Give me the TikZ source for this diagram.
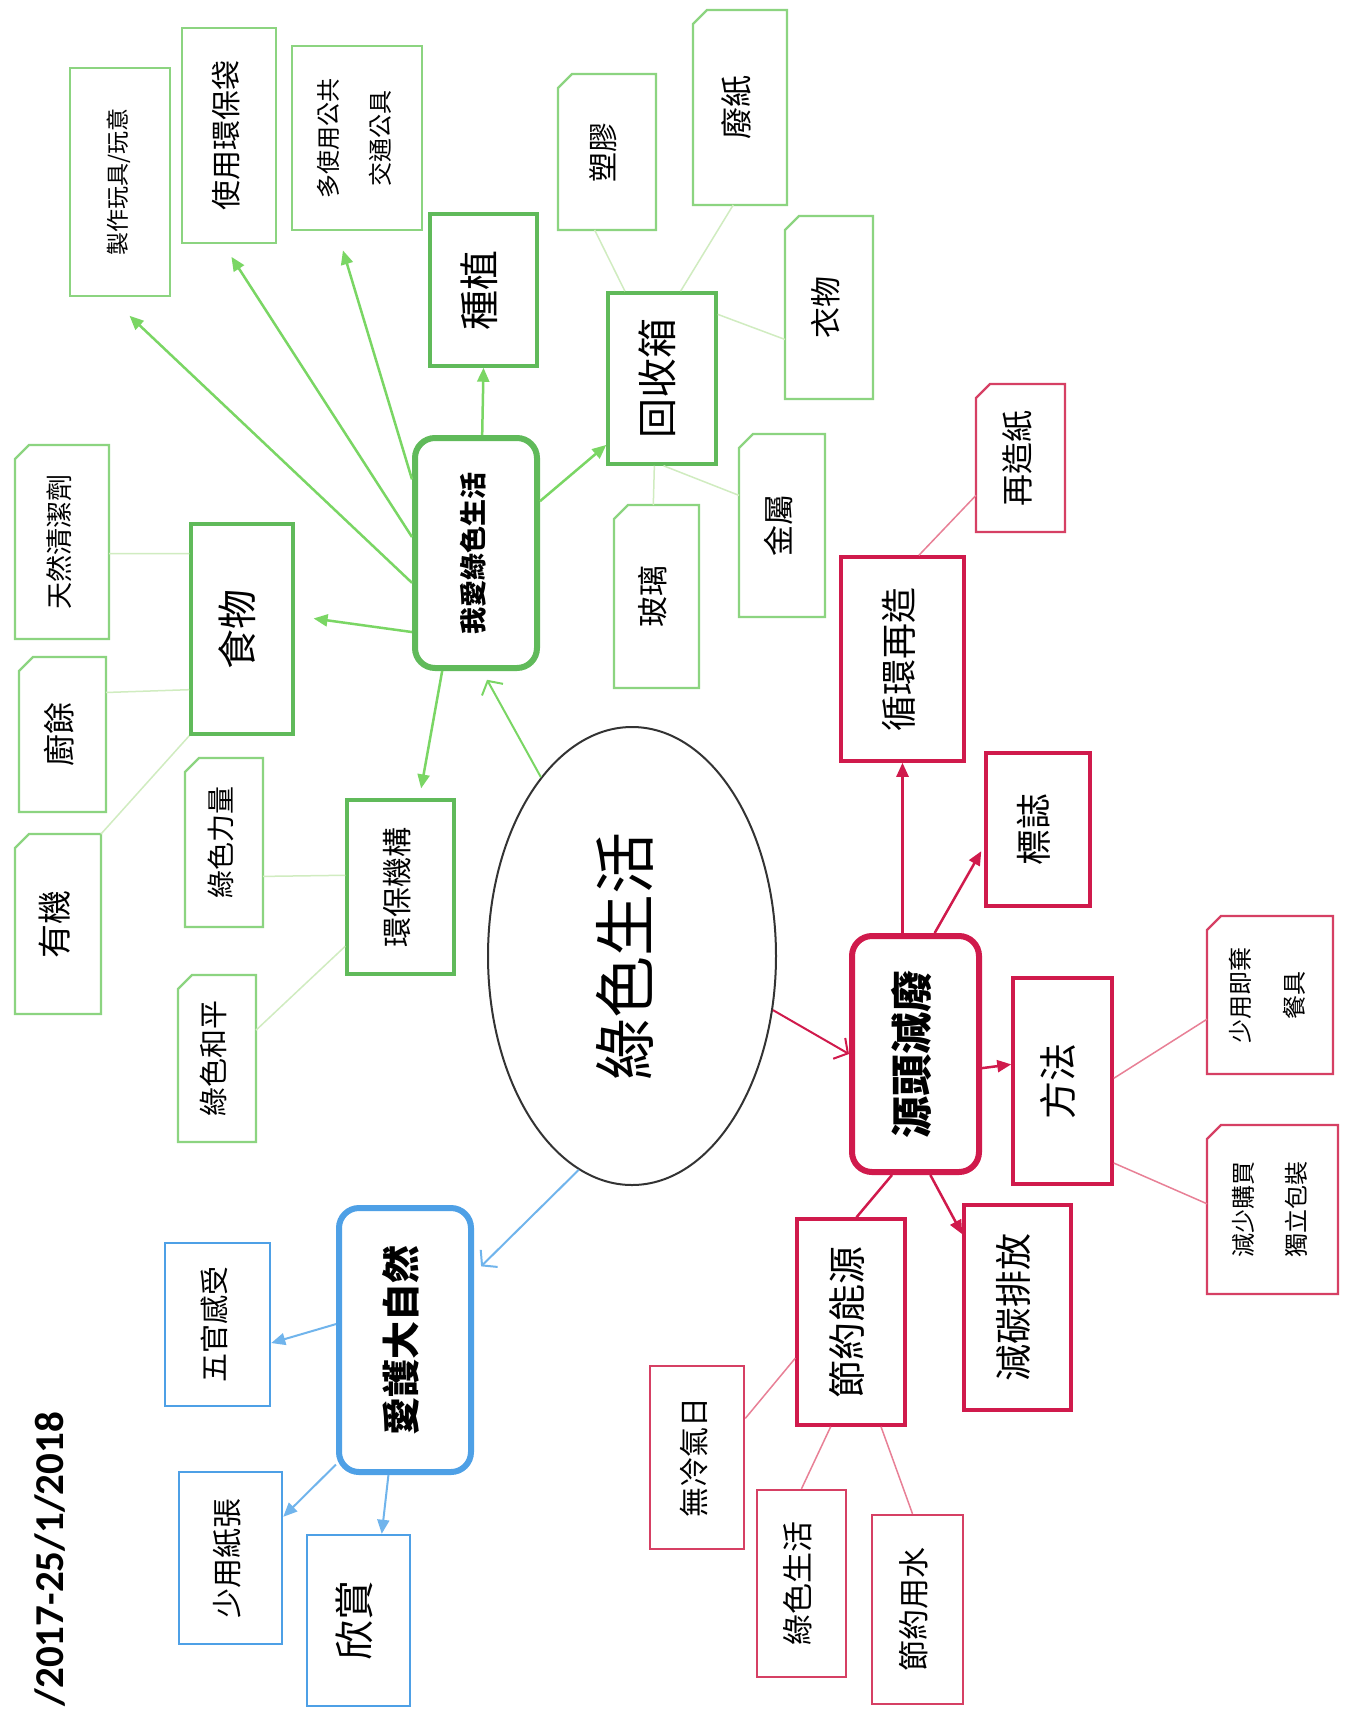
\documentclass[tikz,border=0pt]{standalone}
\usepackage{fontspec}
\usepackage{graphicx}
\newfontfamily\cjk{Noto Sans CJK TC}
\newfontfamily\datefont{Carlito}
\usetikzlibrary{arrows.meta,shapes.geometric}

\definecolor{grnbox}{RGB}{96,186,90}
\definecolor{grnleaf}{RGB}{140,212,128}
\definecolor{grnarr}{RGB}{122,214,100}
\definecolor{grnfaint}{RGB}{208,236,192}
\definecolor{redbox}{RGB}{208,26,76}
\definecolor{redleaf}{RGB}{214,64,100}
\definecolor{redfaint}{RGB}{232,128,150}
\definecolor{blubox}{RGB}{78,160,230}
\definecolor{bluarr}{RGB}{112,180,236}

\tikzstyle{hub}=[draw,rounded corners=20pt,line width=6pt,fill=white,inner sep=0pt]
\tikzstyle{topic}=[draw,line width=3.5pt,fill=white,inner sep=0pt]
\tikzstyle{leaf}=[draw,line width=2.5pt,fill=white,inner sep=0pt]
\tikzstyle{note}=[outer sep=0pt,inner sep=0pt]
\tikzstyle{notepath}=[line width=2.2pt,line join=miter]
\tikzstyle{arrow}=[-{Triangle[length=14pt,width=12pt]},line width=2.5pt]
\tikzstyle{barb}=[-{Straight Barb[length=10pt,width=24pt]},line width=2pt]
\tikzstyle{twig}=[line width=1.5pt]
\newcommand{\pxunit}{1pt}
\newcommand{\vt}[1]{\rotatebox{90}{\begin{tabular}{@{}c@{}}#1\end{tabular}}}

\begin{document}
\begin{tikzpicture}[x=\pxunit, y=-\pxunit]
    \path[fill=white] (0,0) rectangle (1351,1710);
    \useasboundingbox (0,0) rectangle (1351,1710);

    % the centre
    \node[ellipse,draw=black!80,line width=2pt,minimum width=288pt,minimum height=458pt,
          font=\cjk\fontsize{62}{62}\selectfont] (core) at (632,956) {\vt{綠色生活}};
    \node[rotate=90,anchor=east,inner sep=0pt,font=\datefont\bfseries\fontsize{41}{41}\selectfont]
        (date) at (50,1412) {/2017-25/1/2018};

    % the three hubs
    \foreach \pos/\name/\w/\h/\fs/\col/\txt in {{(476,553)/love/122/230/27/grnbox/我愛綠色生活},
        {(405,1340)/nature/132/264/38/blubox/愛護大自然}, {(915.5,1054)/source/127/236/42/redbox/源頭減廢}}
        \node[hub,draw=\col,minimum width=\w pt,minimum height=\h pt,
              font=\cjk\bfseries\fontsize{\fs}{\fs}\selectfont] (\name) at \pos {\vt{\txt}};

    % second level boxes
    \foreach \pos/\name/\w/\h/\fs/\col/\txt in {{(483.5,290)/plant/107/152/40/grnbox/種植},
        {(662,378.5)/recycle/108/171/40/grnbox/回收箱}, {(242,629)/food/102/210/40/grnbox/食物},
        {(400.5,887)/org/107/174/30/grnbox/環保機構}, {(902.5,659)/cycle/123/204/36/redbox/循環再造},
        {(1038,829.5)/logo/104/153/36/redbox/標誌}, {(1062.5,1081)/method/99/206/38/redbox/方法},
        {(1017.5,1307.5)/carbon/107/205/37/redbox/減碳排放}, {(851,1322)/energy/108/206/38/redbox/節約能源}}
        \node[topic,draw=\col,minimum width=\w pt,minimum height=\h pt,
              font=\cjk\fontsize{\fs}{\fs}\selectfont] (\name) at \pos {\vt{\txt}};

    % plain leaves
    \foreach \pos/\name/\w/\h/\fs/\col/\txt in {{(120,182)/toy/100/228/23/grnleaf/{製作玩具/玩意}},
        {(229,135.5)/bag/94/215/30/grnleaf/使用環保袋}, {(357,138)/transport/130/184/24/grnleaf/{多使用公共\\[24pt]交通公具}},
        {(217.5,1324.5)/senses/105/163/29/blubox/五官感受}, {(230.5,1558)/lesspaper/103/172/30/blubox/少用紙張},
        {(358.5,1620.5)/enjoy/103/171/40/blubox/欣賞}, {(697,1457.5)/noac/94/183/30/redleaf/無冷氣日},
        {(801.5,1583.5)/greenlife/89/187/31/redleaf/綠色生活}, {(917.5,1609.5)/water/91/189/31/redleaf/節約用水}}
        \node[leaf,draw=\col,minimum width=\w pt,minimum height=\h pt,
              font=\cjk\fontsize{\fs}{\fs}\selectfont] (\name) at \pos {\vt{\txt}};

    % leaves with a cut corner
    \foreach \pos/\name/\w/\h/\fs/\col/\txt in {{(607,152)/plastic/98/156/30/grnleaf/塑膠},
        {(740,107.5)/wpaper/94/195/32/grnleaf/廢紙}, {(829,307.5)/cloth/88/183/31/grnleaf/衣物},
        {(782,525.5)/metal/86/183/31/grnleaf/金屬}, {(656.5,596.5)/glass/85/183/31/grnleaf/玻璃},
        {(62,542)/cleaner/94/194/27/grnleaf/天然清潔劑}, {(62.5,734.5)/kitchen/87/155/32/grnleaf/廚餘},
        {(58,924)/organic/86/180/34/grnleaf/有機}, {(224,842.5)/power/78/169/28/grnleaf/綠色力量},
        {(217,1058.5)/peace/78/167/29/grnleaf/綠色和平}, {(1020.5,458)/rpaper/89/148/32/redleaf/再造紙},
        {(1270,995)/disposable/126/158/24/redleaf/{少用即棄\\[26pt]餐具}},
        {(1272.5,1209.5)/package/131/169/24/redleaf/{減少購買\\[26pt]獨立包裝}}}
    {
        \node[note,minimum width=\w pt,minimum height=\h pt,
              font=\cjk\fontsize{\fs}{\fs}\selectfont] (\name) at \pos {\vt{\txt}};
        \draw[notepath,draw=\col] (\name.south west) -- (\name.south east) -- (\name.north east)
            -- ([xshift=14pt]\name.north west) -- ([yshift=-14pt]\name.north west) -- cycle;
    }

    % green branch
    \draw[barb,grnarr,shorten >=10pt] (core.117) -- (love.273);
    \foreach \source/\dest/\gap in {love.87/plant.south/0, love.39/recycle.230/0, love.205/toy.265/27,
        love.166/bag.267/15, love.131/transport.258/20, love.231/food.14/19, love.254/org.78/10}
        \draw[arrow,grnarr,shorten >=\gap pt] (\source) -- (\dest);
    \foreach \source/\dest in {recycle.113/plastic.261, recycle.78/wpaper.266, recycle.49/cloth.216,
        recycle.271/metal.145, recycle.265/glass.92, food.125/cleaner.346, food.229/kitchen.44,
        food.south west/organic.north east, org.168/power.319, org.227/peace.36}
        \draw[twig,grnfaint] (\source) -- (\dest);

    % blue branch
    \draw[barb,bluarr,shorten >=10pt] (core.256) -- (nature.44);
    \foreach \source/\dest in {nature.167/senses.341, nature.241/lesspaper.38, nature.263/enjoy.75}
        \draw[arrow,bluarr,line width=2pt] (\source) -- (\dest);

    % red branch
    \draw[barb,redbox] (core.339) -- (source.west);
    \draw[arrow,redbox] (source.north -| cycle.south) -- (cycle.south);
    \foreach \source/\dest/\gap in {source.81/logo.197/6, source.348/method.162/0, source.277/carbon.127/0}
        \draw[arrow,redbox,shorten >=\gap pt] (\source) -- (\dest);
    \draw[redbox,line width=2.5pt] (source.259) -- (energy.87);
    \foreach \source/\dest in {cycle.81/rpaper.220, method.3/disposable.201, method.302/package.175,
        energy.213/noac.39, energy.259/greenlife.north, energy.286/water.93}
        \draw[twig,redfaint] (\source) -- (\dest);
\end{tikzpicture}
\end{document}
